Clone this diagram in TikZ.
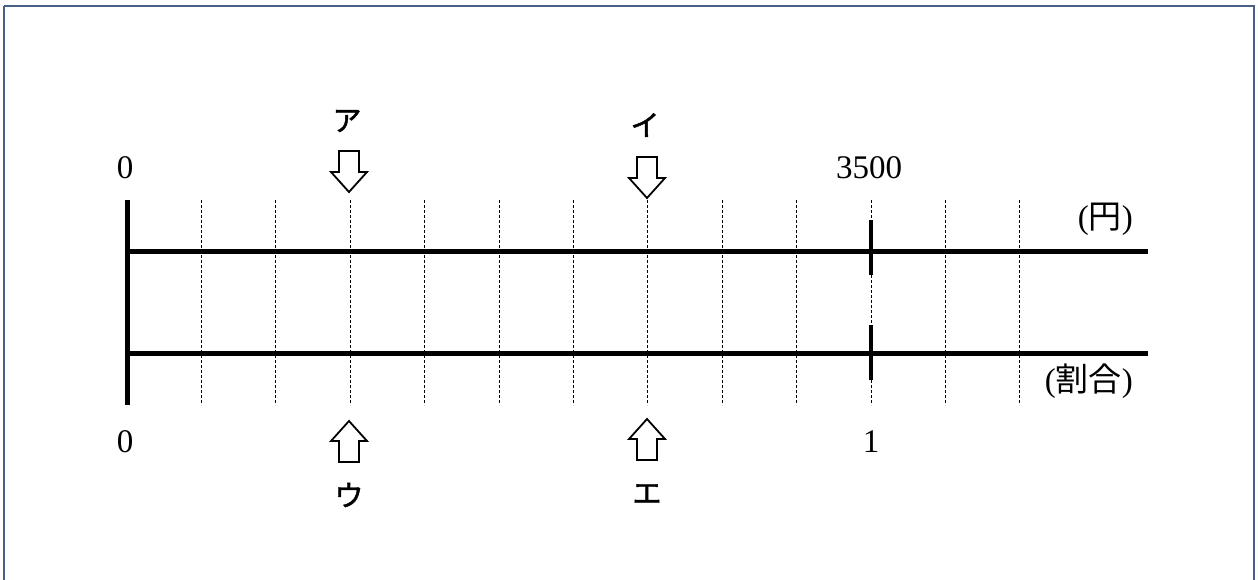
\documentclass[tikz,border=0pt]{standalone}
\usepackage{fontspec}
\setmainfont{Liberation Serif}
\newfontfamily\jp{Noto Sans CJK JP}
\newfontfamily\jpk[FakeBold=1.5]{Noto Sans CJK JP}
\definecolor{framec}{HTML}{4A5F86}
\begin{document}
\begin{tikzpicture}[x=1pt,y=-1pt,
  axis/.style={line width=5pt},
  grid/.style={line width=0.8pt,dash pattern=on 3pt off 2pt},
  tick/.style={line width=3.5pt},
  num/.style={font=\fontsize{33}{40}\selectfont,inner sep=0pt},
  kana/.style={font=\jpk\fontsize{29}{34}\selectfont,inner sep=0pt},
  unit/.style={font=\fontsize{33}{40}\selectfont,inner sep=0pt,anchor=east},
  hollow/.style={draw,line width=1.8pt,fill=white,line join=miter},
  downarrow/.pic={\draw[hollow] (-10,-21)--(10,-21)--(10,0)--(18,0)--(0,20)--(-18,0)--(-10,0)--cycle;},
  uparrow/.pic={\draw[hollow] (-10,21)--(10,21)--(10,0)--(18,0)--(0,-20)--(-18,0)--(-10,0)--cycle;}
]
\useasboundingbox (0,0) rectangle (1258,579);
\begin{scope}
\clip (0,0) rectangle (1258,579);
\draw[framec,line width=2pt] (4,6) -- (1254,6) -- (1254,600) (4,6) -- (4,600);
\end{scope}
% dashed grid
\foreach \i in {1,...,12}{
  \draw[grid] ({127+74.4*\i},200) -- ({127+74.4*\i},405);
}
% axes
\coordinate (v0) at (127,200);
\coordinate (v1) at (127,405);
\coordinate (t0) at (127,251);
\coordinate (t1) at (1148,251);
\coordinate (b0) at (127,353);
\coordinate (b1) at (1148,353);
\draw[axis] (v0) -- (v1);
\draw[axis] (t0) -- (t1);
\draw[axis] (b0) -- (b1);
% ticks at 3500 / 1
\draw[tick] (871,220) -- (871,275);
\draw[tick] (871,325) -- (871,380);
% labels
\node[num] (zt) at (125,168) {0};
\node[num] (n3500) at (869,168) {3500};
\node[num] (zb) at (125,442) {0};
\node[num] (one) at (871,442) {1};
\node[unit] (yen) at (1133,219) {({\jp 円})};
\node[unit] (wari) at (1133,381) {({\jp 割合})};
% arrows
\pic at (349,172) {downarrow};
\pic at (647,178) {downarrow};
\pic at (349,441) {uparrow};
\pic at (647,439) {uparrow};
\node[kana] (a) at (347,121) {ア};
\node[kana] (i) at (645,125) {イ};
\node[kana] (u) at (349,495) {ウ};
\node[kana] (e) at (647,494) {エ};
\end{tikzpicture}
\end{document}
